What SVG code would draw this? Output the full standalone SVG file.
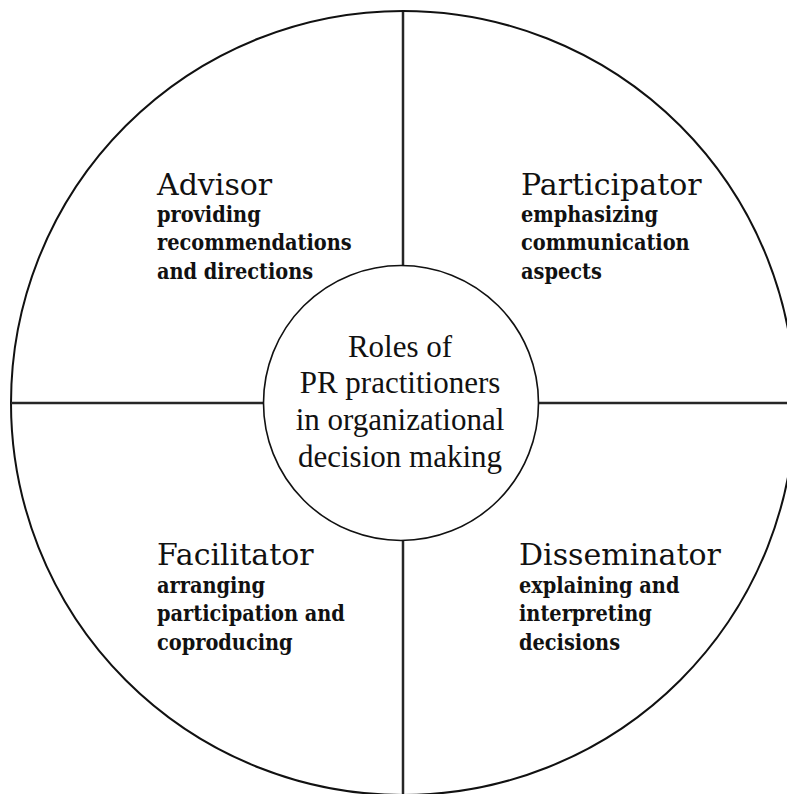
<svg xmlns="http://www.w3.org/2000/svg" width="787" height="794" viewBox="0 0 787 794">
<style>
.head{font-family:"DejaVu Serif","Liberation Serif",serif;font-size:30px;fill:#111}
.desc{font-family:"DejaVu Serif Condensed","DejaVu Serif","Liberation Serif",serif;font-stretch:condensed;font-size:21.5px;font-weight:bold;fill:#111}
.center{font-family:"Liberation Serif","Times New Roman",serif;font-size:31px;fill:#111;text-anchor:middle}
.ln{stroke:#262626;stroke-width:2.5;fill:none}
</style>
<rect width="787" height="794" fill="#fff"/>
<g id="outer"><circle cx="403" cy="403" r="392" fill="none" stroke="#111" stroke-width="2"/></g>
<g id="connectors">
<line class="ln" x1="403" y1="12" x2="403" y2="266"/>
<line class="ln" x1="403" y1="540" x2="403" y2="794"/>
<line class="ln" x1="11" y1="403" x2="264" y2="403"/>
<line class="ln" x1="539" y1="403" x2="787" y2="403"/>
</g>
<g id="center">
<circle cx="401" cy="403" r="137.5" fill="#fff" stroke="#111" stroke-width="1.6"/>
<text class="center" x="400" y="357">Roles of</text>
<text class="center" x="400" y="393">PR practitioners</text>
<text class="center" x="400" y="430">in organizational</text>
<text class="center" x="400" y="467">decision making</text>
</g>
<g id="advisor">
<text class="head" x="157" y="195">Advisor</text>
<text class="desc" x="157" y="222">providing</text>
<text class="desc" x="157" y="250">recommendations</text>
<text class="desc" x="157" y="279">and directions</text>
</g>
<g id="participator">
<text class="head" x="521" y="195">Participator</text>
<text class="desc" x="521" y="222">emphasizing</text>
<text class="desc" x="521" y="250">communication</text>
<text class="desc" x="521" y="279">aspects</text>
</g>
<g id="facilitator">
<text class="head" x="157" y="565">Facilitator</text>
<text class="desc" x="157" y="593">arranging</text>
<text class="desc" x="157" y="621">participation and</text>
<text class="desc" x="157" y="650">coproducing</text>
</g>
<g id="disseminator">
<text class="head" x="519" y="565">Disseminator</text>
<text class="desc" x="519" y="593">explaining and</text>
<text class="desc" x="519" y="621">interpreting</text>
<text class="desc" x="519" y="650">decisions</text>
</g>
</svg>
